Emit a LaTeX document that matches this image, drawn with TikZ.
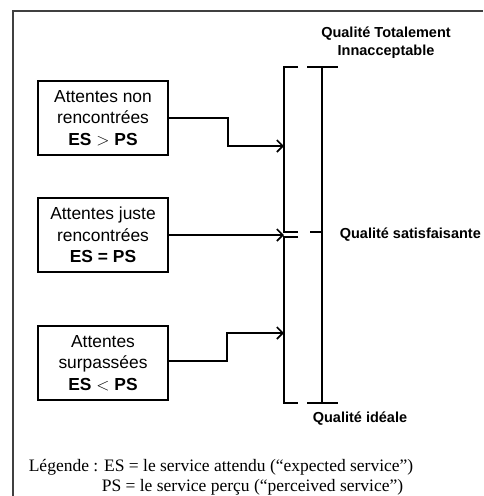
\documentclass[tikz,border=0pt]{standalone}
\usepackage{fontspec}
\setmainfont{Liberation Serif}
\newfontfamily\arialf{Liberation Sans}
\usetikzlibrary{arrows.meta}
\begin{document}
\begin{tikzpicture}[x=1pt,y=-1pt, line width=1.6pt,
  boxst/.style={draw, minimum width=130pt, minimum height=74pt, inner sep=0pt, align=center,
    font=\arialf\fontsize{17.4}{21.5}\selectfont},
  lbl/.style={font=\arialf\bfseries\fontsize{14.5}{18}\selectfont, align=center, inner sep=0pt},
  legst/.style={font=\fontsize{17.5}{20}\selectfont, inner sep=0pt, anchor=base west},
  arr/.style={-{Straight Barb[length=6pt,width=12pt,line width=1.6pt]}, line width=1.6pt},
  brk/.style={line width=1.6pt}]
\useasboundingbox (0,0) rectangle (483,496);
% frame
\draw[line width=1.3pt, black!75] (13,496) -- (13,11) -- (483,11);
% boxes
\node[boxst] (b1) at (103,118) {Attentes non\\rencontrées\\\textbf{ES $>$ PS}};
\node[boxst] (b2) at (103,235) {Attentes juste\\rencontrées\\\textbf{ES = PS}};
\node[boxst] (b3) at (103,363) {Attentes\\surpassées\\\textbf{ES $<$ PS}};
% bracket coordinates
\coordinate (e1) at (284,146);
\coordinate (e2) at (284,235);
\coordinate (e3) at (284,333);
% brackets
\draw[brk] (298,67) -- (284,67) -- (284,232) -- (298,232);
\draw[brk] (298,237) -- (284,237) -- (284,403) -- (298,403);
% scale
\draw[brk] (307,67) -- (338,67);
\draw[brk] (322,67) -- (322,403);
\draw[brk] (307,403) -- (338,403);
\draw[brk] (310,232) -- (322,232);
% arrows
\draw[arr] (b1.east) -- ++(59,0) |- (e1);
\draw[arr] (b2.east) -- (e2);
\draw[arr] (b3.east) ++(0,-2) coordinate (s3) -- ++(58,0) |- (e3);
% labels
\node[lbl] (l1) at (386,43) {Qualité Totalement\\Innacceptable};
\node[lbl, anchor=west] (l2) at (339,235) {Qualité satisfaisante};
\node[lbl] (l3) at (360,419) {Qualité idéale};
% legend
\node[legst] (g1) at (28,471) {Légende : ES = le service attendu (``expected service'')};
\node[legst] (g2) at (101,491) {PS = le service perçu (``perceived service'')};
\end{tikzpicture}
\end{document}
